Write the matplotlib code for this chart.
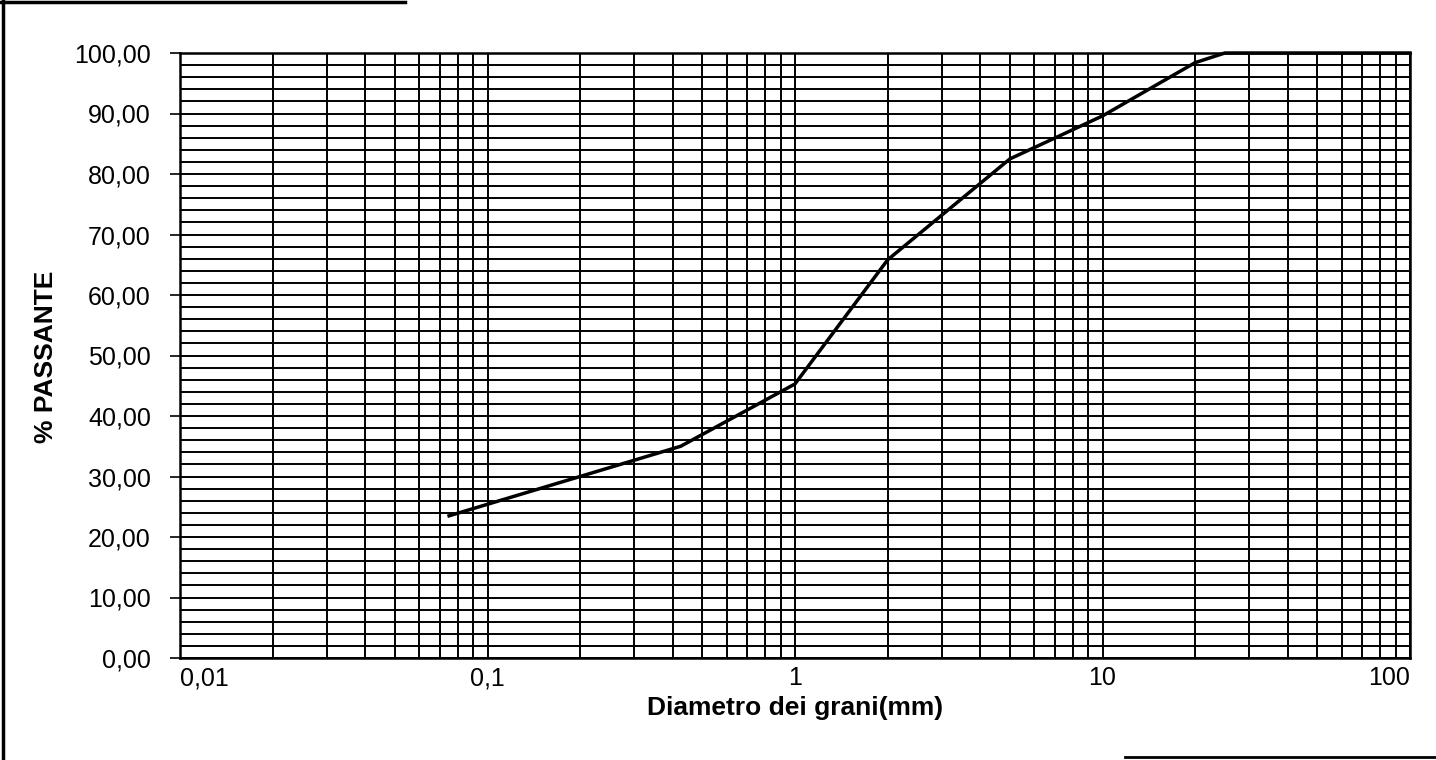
import numpy as np
import matplotlib
matplotlib.use("Agg")
import matplotlib.pyplot as plt
from matplotlib.ticker import FixedLocator, LogLocator, MultipleLocator, FuncFormatter, NullFormatter
from matplotlib.lines import Line2D

# ---- data ----
diametro = [0.075, 0.425, 1, 2, 5, 10, 20, 25, 100]
passante = [23.5, 35.0, 45.3, 65.8, 82.5, 89.6, 98.4, 100.0, 100.0]

x_ticks = [0.01, 0.1, 1, 10, 100]
x_tick_labels = ["0,01", "0,1", "1", "10", "100"]
y_ticks = list(range(0, 101, 10))

plt.rcParams['font.family'] = ['Liberation Sans', 'DejaVu Sans']

fig = plt.figure(figsize=(14.36, 7.6), dpi=100)
ax = fig.add_axes([180 / 1436, 102 / 760, 1230 / 1436, 605 / 760])

ax.plot(diametro, passante, color="black", lw=2.5, zorder=3, clip_on=False)

# log x axis, 0.01 - 100
ax.set_xscale("log")
ax.set_xlim(0.01, 100)
ax.set_ylim(0, 100)

ax.xaxis.set_major_locator(FixedLocator(x_ticks))
ax.set_xticklabels(x_tick_labels)
ax.xaxis.set_minor_locator(LogLocator(base=10, subs=np.arange(2, 10)))
ax.xaxis.set_minor_formatter(NullFormatter())

ax.yaxis.set_major_locator(FixedLocator(y_ticks))
ax.yaxis.set_minor_locator(MultipleLocator(2))
ax.yaxis.set_major_formatter(FuncFormatter(lambda v, p: f"{v:.2f}".replace(".", ",")))

ax.grid(True, which="both", color="black", lw=1.4)
ax.set_axisbelow(True)

ax.tick_params(axis="x", which="both", length=0, pad=6, labelsize=18)
ax.tick_params(axis="y", which="major", length=7, width=1.2, pad=14, labelsize=18)
ax.tick_params(axis="y", which="minor", length=0)

labels = ax.get_xticklabels()
labels[0].set_horizontalalignment("left")
labels[-1].set_horizontalalignment("right")

for s in ax.spines.values():
    s.set_color("black")
    s.set_linewidth(1.8)

ax.set_xlabel("Diametro dei grani(mm)", fontsize=19, fontweight="bold")
ax.xaxis.set_label_coords(0.5, -0.062)
ax.set_ylabel("% PASSANTE", fontsize=19, fontweight="bold")
ax.yaxis.set_label_coords(-0.099, 0.4975)

# scanned page frame pieces
fig.add_artist(Line2D([3 / 1436, 3 / 1436], [0, 1], color="black", lw=2.5))
fig.add_artist(Line2D([0, 405 / 1436], [758 / 760, 758 / 760], color="black", lw=2.5))
fig.add_artist(Line2D([1125 / 1436, 1], [3 / 760, 3 / 760], color="black", lw=2))

fig.savefig("out.png", dpi=100, facecolor="white")
